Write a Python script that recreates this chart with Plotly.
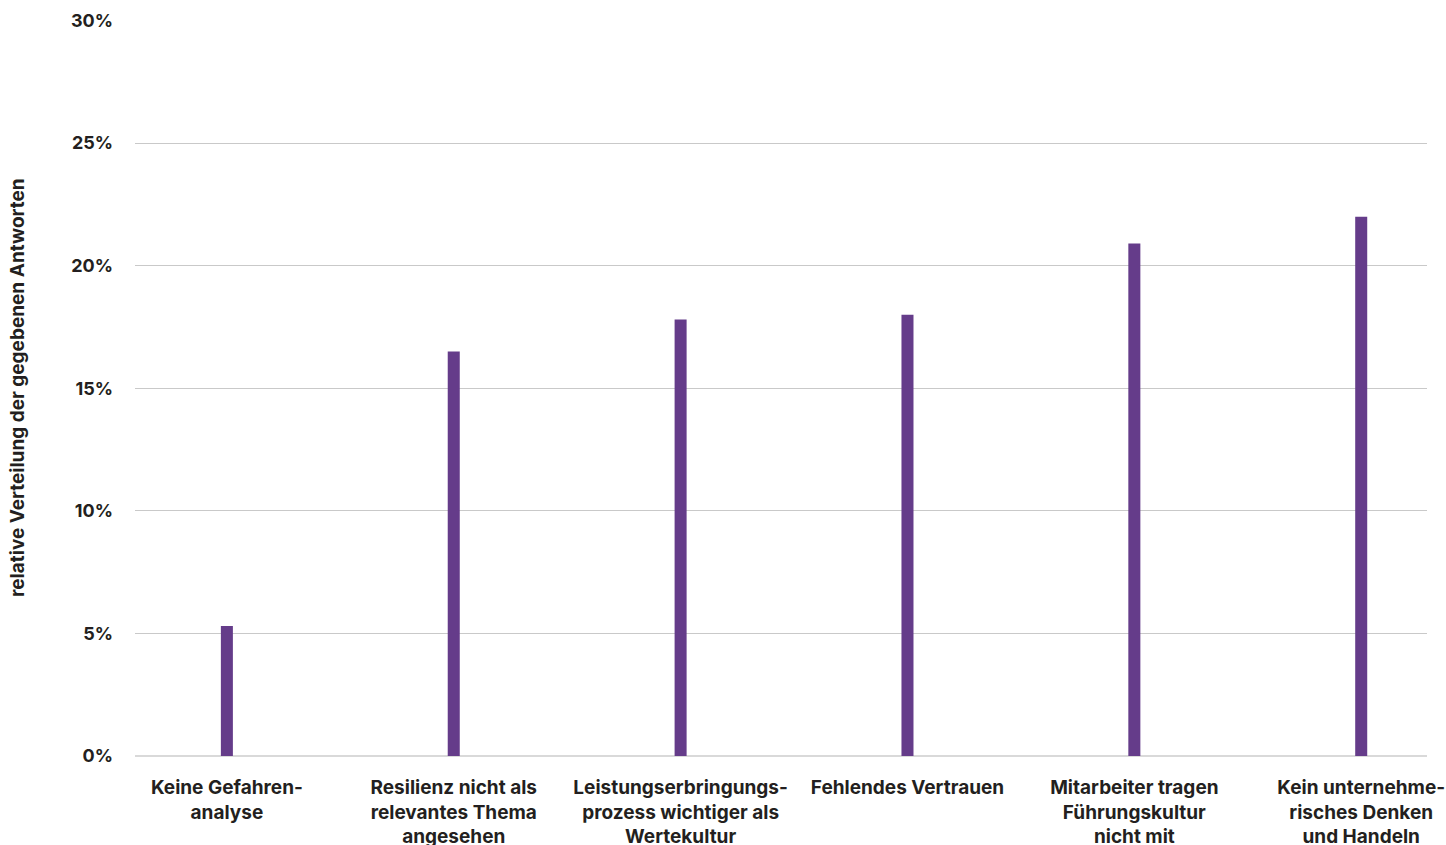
import plotly.graph_objects as go

categories = [
    "Keine Gefahren-<br>analyse",
    "Resilienz nicht als<br>relevantes Thema<br>angesehen",
    "Leistungserbringungs-<br>prozess wichtiger als<br>Wertekultur",
    "Fehlendes Vertrauen",
    "Mitarbeiter tragen<br>Führungskultur<br>nicht mit",
    "Kein unternehme-<br>risches Denken<br>und Handeln",
]
shares = [5.3, 16.5, 17.8, 18.0, 20.9, 22.0]
y_ticks = [0, 5, 10, 15, 20, 25, 30]
y_tick_labels = ["0%", "5%", "10%", "15%", "20%", "25%", "30%"]
y_title = "relative Verteilung der gegebenen Antworten"

font_family = "Inter, Roboto, 'Noto Sans', sans-serif"
text_color = "#231f20"

W, H = 1446, 845
M_L, M_R, M_T, M_B = 135, 19, 20, 89
plot_w = W - M_L - M_R

fig = go.Figure(
    go.Bar(
        x=list(range(len(categories))),
        y=shares,
        width=0.053,
        marker=dict(color="#653c8a", line=dict(width=0)),
        hovertemplate="%{y:.1f}%<extra></extra>",
    )
)

fig.update_layout(
    width=W,
    height=H,
    margin=dict(l=M_L, r=M_R, t=M_T, b=M_B, autoexpand=False),
    plot_bgcolor="white",
    paper_bgcolor="white",
    showlegend=False,
    font=dict(family=font_family, color=text_color),
)

fig.update_xaxes(
    tickmode="array",
    tickvals=list(range(len(categories))),
    ticktext=categories,
    range=[-0.405, 5.29],
    automargin=False,
    showgrid=False,
    zeroline=False,
    showline=False,
    ticks="",
    tickangle=0,
    ticklabelstandoff=18,
    tickfont=dict(size=19, family=font_family, color=text_color, weight="bold"),
)

fig.update_yaxes(
    range=[0, 30.02],
    tickmode="array",
    tickvals=y_ticks,
    ticktext=y_tick_labels,
    automargin=False,
    showgrid=True,
    gridcolor="#c9c9c9",
    gridwidth=1,
    zeroline=True,
    zerolinecolor="#d9d9d9",
    zerolinewidth=2,
    showline=False,
    ticks="",
    ticklabelstandoff=21,
    tickfont=dict(size=18, family=font_family, color=text_color, weight="bold"),
)

# rotated axis title placed in the left margin
fig.add_annotation(
    text=y_title,
    xref="paper",
    yref="paper",
    x=(17 - M_L) / plot_w,
    y=0.5,
    xanchor="center",
    yanchor="middle",
    textangle=-90,
    showarrow=False,
    font=dict(size=19, family=font_family, color=text_color, weight="bold"),
)

fig.write_html("out.html")
